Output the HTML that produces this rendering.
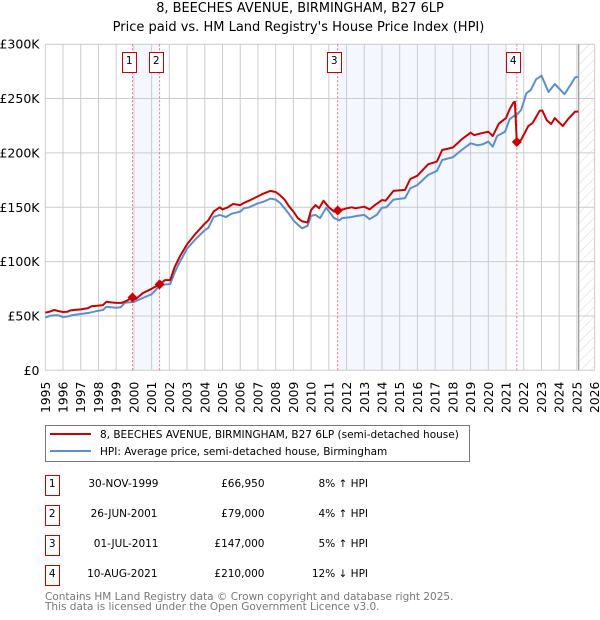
<!DOCTYPE html>
<html>
<head>
<meta charset="utf-8">
<title>8, BEECHES AVENUE, BIRMINGHAM, B27 6LP</title>
<style>
html,body{margin:0;padding:0;background:#fff;}
body{width:600px;height:620px;overflow:hidden;position:relative;font-family:"DejaVu Sans","Liberation Sans",sans-serif;}
svg{position:absolute;left:0;top:0;display:block;}
text{font-family:"DejaVu Sans","Liberation Sans",sans-serif;fill:#000;}
</style>
</head>
<body>
<svg id="chart" width="600" height="620" viewBox="0 0 600 620" xmlns="http://www.w3.org/2000/svg">
  <defs>
    <pattern id="hatch" patternUnits="userSpaceOnUse" width="7" height="7" patternTransform="rotate(45)">
      <line x1="0" y1="0" x2="0" y2="7" stroke="#d8d8d8" stroke-width="1"/>
    </pattern>
  </defs>
  <text x="300" y="12" font-size="12.9" text-anchor="middle">8, BEECHES AVENUE, BIRMINGHAM, B27 6LP</text>
  <text x="298.5" y="31" font-size="13" text-anchor="middle">Price paid vs. HM Land Registry's House Price Index (HPI)</text>
  <g id="plot"></g>

  <rect x="45.5" y="425.5" width="424" height="36" fill="#fff" stroke="#777" stroke-width="1"/>
  <line x1="50" y1="434" x2="91" y2="434" stroke="#cc0000" stroke-width="2"/>
  <text x="100" y="438" font-size="10.5">8, BEECHES AVENUE, BIRMINGHAM, B27 6LP (semi-detached house)</text>
  <line x1="50" y1="451" x2="91" y2="451" stroke="#5b8fd0" stroke-width="2"/>
  <text x="100" y="455" font-size="10.5">HPI: Average price, semi-detached house, Birmingham</text>

  <g>
    <rect x="45.5" y="475.5" width="14" height="20" fill="#fff" stroke="#cc0000" stroke-width="1"/>
    <text x="52.2" y="487" font-size="10.5" text-anchor="middle">1</text>
    <text x="158.5" y="487" font-size="10.5" text-anchor="end">30-NOV-1999</text>
    <text x="264.5" y="487" font-size="10.5" text-anchor="end">£66,950</text>
    <text x="368" y="487" font-size="10.5" text-anchor="end">8% ↑ HPI</text>
  </g>
  <g>
    <rect x="45.5" y="505.5" width="14" height="20" fill="#fff" stroke="#cc0000" stroke-width="1"/>
    <text x="52.2" y="517" font-size="10.5" text-anchor="middle">2</text>
    <text x="157.5" y="517" font-size="10.5" text-anchor="end">26-JUN-2001</text>
    <text x="264.5" y="517" font-size="10.5" text-anchor="end">£79,000</text>
    <text x="368" y="517" font-size="10.5" text-anchor="end">4% ↑ HPI</text>
  </g>
  <g>
    <rect x="45.5" y="535.5" width="14" height="20" fill="#fff" stroke="#cc0000" stroke-width="1"/>
    <text x="52.2" y="547" font-size="10.5" text-anchor="middle">3</text>
    <text x="158.5" y="547" font-size="10.5" text-anchor="end">01-JUL-2011</text>
    <text x="264.5" y="547" font-size="10.5" text-anchor="end">£147,000</text>
    <text x="368" y="547" font-size="10.5" text-anchor="end">5% ↑ HPI</text>
  </g>
  <g>
    <rect x="45.5" y="565.5" width="14" height="20" fill="#fff" stroke="#cc0000" stroke-width="1"/>
    <text x="52.2" y="577" font-size="10.5" text-anchor="middle">4</text>
    <text x="157.5" y="577" font-size="10.5" text-anchor="end">10-AUG-2021</text>
    <text x="264.5" y="577" font-size="10.5" text-anchor="end">£210,000</text>
    <text x="368" y="577" font-size="10.5" text-anchor="end">12% ↓ HPI</text>
  </g>

  <text x="45" y="600" font-size="10.5" style="fill:#777">Contains HM Land Registry data © Crown copyright and database right 2025.</text>
  <text x="45" y="610" font-size="10.5" style="fill:#777">This data is licensed under the Open Government Licence v3.0.</text>
</svg>
<script>
var yTickValues = [0, 50, 100, 150, 200, 250, 300];
var yTickLabels = ['£0', '£50K', '£100K', '£150K', '£200K', '£250K', '£300K'];
var xTickYears = [1995,1996,1997,1998,1999,2000,2001,2002,2003,2004,2005,2006,2007,2008,2009,2010,2011,2012,2013,2014,2015,2016,2017,2018,2019,2020,2021,2022,2023,2024,2025,2026];

var priceYears = [1995,1995.25,1995.5,1995.75,1996,1996.25,1996.4,1996.6,1997,1997.4,1997.6,1998,1998.25,1998.45,1998.7,1999,1999.3,1999.6,1999.92,2000.1,2000.5,2001,2001.45,2001.75,2002.05,2002.3,2002.6,2003,2003.5,2004,2004.2,2004.5,2004.85,2005,2005.3,2005.6,2006,2006.2,2006.5,2007,2007.3,2007.7,2008,2008.25,2008.5,2008.75,2009,2009.25,2009.5,2009.8,2010,2010.25,2010.45,2010.7,2011,2011.3,2011.5,2011.8,2012,2012.3,2012.5,2013,2013.3,2013.6,2014,2014.2,2014.65,2015.3,2015.6,2016,2016.6,2017.1,2017.4,2018,2018.5,2019,2019.2,2019.6,2020,2020.25,2020.6,2021,2021.2,2021.42,2021.5,2021.61,2021.85,2022.26,2022.5,2022.9,2023.05,2023.3,2023.55,2023.75,2024.2,2024.5,2024.9,2025.08];
var priceValues = [53,54,55.5,54.5,53.6,53.8,55,55.5,56,57,59,59.5,60,63,62.5,62,62,64,66.95,65.5,71,75,79,83,83,95,105,116,126,135,138,146,150,148,150,153,152,154,156,160,162.5,165,164,161,157,151,146,140,137,136,147.5,152,149,156,150,146,147,148,149,150,149,150.5,148,152,156.7,156,165,166,176,179,189.5,192,202.7,205,212.5,218.6,216.4,218,219.5,215.5,227,232,240,246.5,247,210,212,224.7,227.5,238.8,239,230,226.6,232,224.7,231,238,238];
var hpiYears = [1995,1995.25,1995.5,1995.75,1996,1996.25,1996.6,1997,1997.5,1998,1998.25,1998.45,1998.7,1999,1999.25,1999.5,2000,2000.5,2001,2001.5,2002.05,2002.3,2002.6,2003,2003.5,2004,2004.2,2004.5,2004.85,2005.2,2005.5,2006,2006.2,2006.5,2007,2007.3,2007.7,2008,2008.25,2008.5,2008.75,2009,2009.25,2009.5,2009.8,2010,2010.25,2010.5,2010.85,2011.3,2011.6,2011.75,2012.2,2012.6,2013,2013.3,2013.7,2014,2014.25,2014.65,2015.3,2015.6,2016,2016.6,2017.1,2017.4,2018,2018.5,2019,2019.4,2019.7,2020,2020.25,2020.5,2020.95,2021.2,2021.45,2021.6,2021.85,2022.15,2022.4,2022.7,2023,2023.4,2023.75,2024.3,2024.7,2024.9,2025.08];
var hpiValues = [48.5,50,50.6,50.5,49,49.5,51,51.8,53,54.8,55.5,58.5,58,57.6,58,62.2,62.8,66.5,70,78.5,79.4,90,100,112,121,129,131,141,143,141,144,146,149,150,153.6,155,158,157,154,149,144,138,134,130.6,133,142,143,140,149.6,140,138,140,140.8,142,143,139,143,149.6,150,157,158.4,167.4,170.5,179.7,183.4,193.5,196,202.7,208.8,207,208,210.4,205.7,215.6,219.5,231,234,235,239.5,254.8,258,267.7,271,256,263.4,254,264,269.5,270];

var saleYears = [1999.92, 2001.45, 2011.5, 2021.61];
var salePrices = [66.95, 79, 147, 210];
var saleLabels = ['1', '2', '3', '4'];
var shadedSpans = [[2000, 2001.45], [2011.5, 2021]];
var forecastStart = 2025.1;

function xScale(year) { return 45.3 + (year - 1995) * 17.72; }
function yScale(value) { return 370.3 - value * 326.1 / 300; }

var SVG_NS = 'http://www.w3.org/2000/svg';
var plot = document.getElementById('plot');
function make(tag, attrs, parent) {
  var el = document.createElementNS(SVG_NS, tag);
  for (var k in attrs) { el.setAttribute(k, attrs[k]); }
  (parent || plot).appendChild(el);
  return el;
}
function pointsFor(xs, ys) {
  return xs.map(function (x, i) { return xScale(x).toFixed(1) + ',' + yScale(ys[i]).toFixed(1); }).join(' ');
}

shadedSpans.forEach(function (span) {
  var band = make('rect', {x: xScale(span[0]), y: yScale(300), width: xScale(span[1]) - xScale(span[0]), height: yScale(0) - yScale(300), fill: '#f4f7fe'});
  
  
});

var hatchRect = make('rect', {x: xScale(forecastStart), y: yScale(300), width: xScale(2026) - xScale(forecastStart), height: yScale(0) - yScale(300), fill: 'url(#hatch)'});



yTickValues.forEach(function (v, i) {
  var gy = make('line', {x1: xScale(1995), x2: xScale(2026), y1: yScale(v), y2: yScale(v), stroke: '#ccc', 'stroke-width': 1});
  
  
  var ty = make('text', {x: 39.5, y: yScale(v) + 4.5, 'font-size': 12.5, 'text-anchor': 'end'});
  
  
  ty.textContent = yTickLabels[i];
});

xTickYears.forEach(function (yr) {
  var gx = make('line', {x1: xScale(yr), x2: xScale(yr), y1: yScale(300), y2: yScale(0), stroke: '#ccc', 'stroke-width': 1});
  
  
  var tx = make('text', {transform: 'translate(' + (xScale(yr) + 4.5) + ',413) rotate(-90)', 'font-size': 12.3, 'text-anchor': 'start'});
  
  
  tx.textContent = yr;
});

var forecastLine = make('line', {x1: xScale(forecastStart), x2: xScale(forecastStart), y1: yScale(300), y2: yScale(0), stroke: '#999', 'stroke-width': 1.2});



saleYears.forEach(function (yr) {
  var v = make('line', {x1: xScale(yr), x2: xScale(yr), y1: yScale(300), y2: yScale(0), stroke: '#ee7080', 'stroke-width': 1, 'stroke-dasharray': '2 2'});
  
  
});

var hpiLine = make('polyline', {points: pointsFor(hpiYears, hpiValues), fill: 'none', stroke: '#5b8fd0', 'stroke-width': 2, 'stroke-linejoin': 'round'});



var priceLine = make('polyline', {points: pointsFor(priceYears, priceValues), fill: 'none', stroke: '#cc0000', 'stroke-width': 2, 'stroke-linejoin': 'round'});



saleYears.forEach(function (yr, i) {
  var cx = xScale(yr), cy = yScale(salePrices[i]), r = 5;
  var m = make('polygon', {points: cx + ',' + (cy - r) + ' ' + (cx + r) + ',' + cy + ' ' + cx + ',' + (cy + r) + ' ' + (cx - r) + ',' + cy, fill: '#cc0000'});
  
  
  var box = make('rect', {x: Math.round(cx - 10.5) + 0.5, y: 52.5, width: 14, height: 20, fill: '#fff', stroke: '#cc0000', 'stroke-width': 1});
  
  
  var t = make('text', {x: Math.round(cx - 10.5) + 7.2, y: 64, 'font-size': 10.5, 'text-anchor': 'middle'});
  
  
  t.textContent = saleLabels[i];
});
</script>
</body>
</html>
